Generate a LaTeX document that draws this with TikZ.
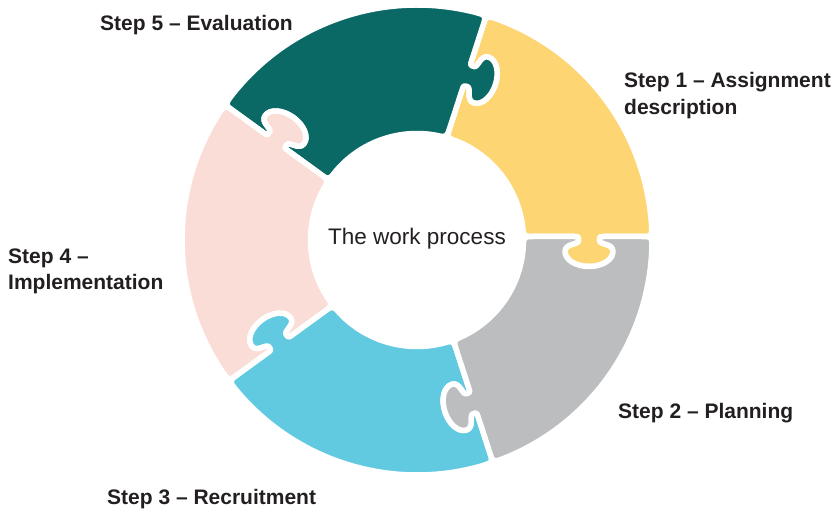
\documentclass[tikz,border=0pt]{standalone}
\usepackage{fontspec}
\setmainfont{Liberation Sans}
\usepackage{tikz}
\definecolor{stepone}{RGB}{253,214,115}
\definecolor{steptwo}{RGB}{188,189,191}
\definecolor{stepthree}{RGB}{97,202,224}
\definecolor{stepfour}{RGB}{251,221,216}
\definecolor{stepfive}{RGB}{10,105,100}
\definecolor{ink}{RGB}{35,31,32}

% seam from inner to outer ring, knob pointing clockwise
\newcommand{\seamout}[1]{-- ([rotate=#1]157,3.5)
  .. controls ([rotate=#1]161,3.5) and ([rotate=#1]161.5,3.5) .. ([rotate=#1]161.5,-0.5)
  .. controls ([rotate=#1]161.5,-5) and ([rotate=#1]148,-3) .. ([rotate=#1]148,-11.5)
  .. controls ([rotate=#1]148,-20) and ([rotate=#1]159,-26.5) .. ([rotate=#1]172,-26.5)
  .. controls ([rotate=#1]185,-26.5) and ([rotate=#1]196,-20) .. ([rotate=#1]196,-11.5)
  .. controls ([rotate=#1]196,-3) and ([rotate=#1]182.5,-5) .. ([rotate=#1]182.5,-0.5)
  .. controls ([rotate=#1]182.5,3.5) and ([rotate=#1]183,3.5) .. ([rotate=#1]187,3.5)
  -- ([rotate=#1]224,3.5)}
% same seam, walked from outer to inner ring
\newcommand{\seamin}[1]{-- ([rotate=#1]187,3.5)
  .. controls ([rotate=#1]183,3.5) and ([rotate=#1]182.5,3.5) .. ([rotate=#1]182.5,-0.5)
  .. controls ([rotate=#1]182.5,-5) and ([rotate=#1]196,-3) .. ([rotate=#1]196,-11.5)
  .. controls ([rotate=#1]196,-20) and ([rotate=#1]185,-26.5) .. ([rotate=#1]172,-26.5)
  .. controls ([rotate=#1]159,-26.5) and ([rotate=#1]148,-20) .. ([rotate=#1]148,-11.5)
  .. controls ([rotate=#1]148,-3) and ([rotate=#1]161.5,-5) .. ([rotate=#1]161.5,-0.5)
  .. controls ([rotate=#1]161.5,3.5) and ([rotate=#1]161,3.5) .. ([rotate=#1]157,3.5)
  -- ([rotate=#1]117.5,3.5)}

\begin{document}
\begin{tikzpicture}[x=1pt,y=1pt,
    piece/.style={draw=white,line width=5.5pt,line join=round},
    steplabel/.style={font=\bfseries\fontsize{21}{26.5}\selectfont,text=ink,inner sep=0pt,align=left}]
  \useasboundingbox (0,0) rectangle (834,511);
  \begin{scope}[shift={(417,271)}]
    \foreach \a/\c in {0/stepone,72/stepfive,144/stepfour,216/stepthree,288/steptwo}{
      \begin{scope}[rotate=\a]
        \filldraw[piece,fill=\c] (117.5,3.5) \seamout{0}
          .. controls (235,3.5) .. (3.53:235)
          arc[start angle=3.53,end angle=70.17,radius=235pt]
          .. controls ([rotate=72]235,3.5) .. ([rotate=72]224,3.5) \seamin{72}
          .. controls ([rotate=72]106.5,3.5) .. (67.96:106.5)
          arc[start angle=67.96,end angle=7.8,radius=106.5pt]
          .. controls (106.5,3.5) .. (117.5,3.5) -- cycle;
      \end{scope}
    }
  \end{scope}
  \node[font=\fontsize{22.5}{27}\selectfont,text=ink,inner sep=0pt,anchor=base] (process) at (417,266) {The work process};
  \node[steplabel,anchor=base west] (evaluation) at (100,480) {Step 5 – Evaluation};
  \node[steplabel,anchor=north west] (assignment) at (624,438.5) {Step 1 – Assignment\\description};
  \node[steplabel,anchor=north west] (implementation) at (8,262.7) {Step 4 –\\Implementation};
  \node[steplabel,anchor=base west] (planning) at (618,92.7) {Step 2 – Planning};
  \node[steplabel,anchor=base west] (recruitment) at (107,6.7) {Step 3 – Recruitment};
\end{tikzpicture}
\end{document}
